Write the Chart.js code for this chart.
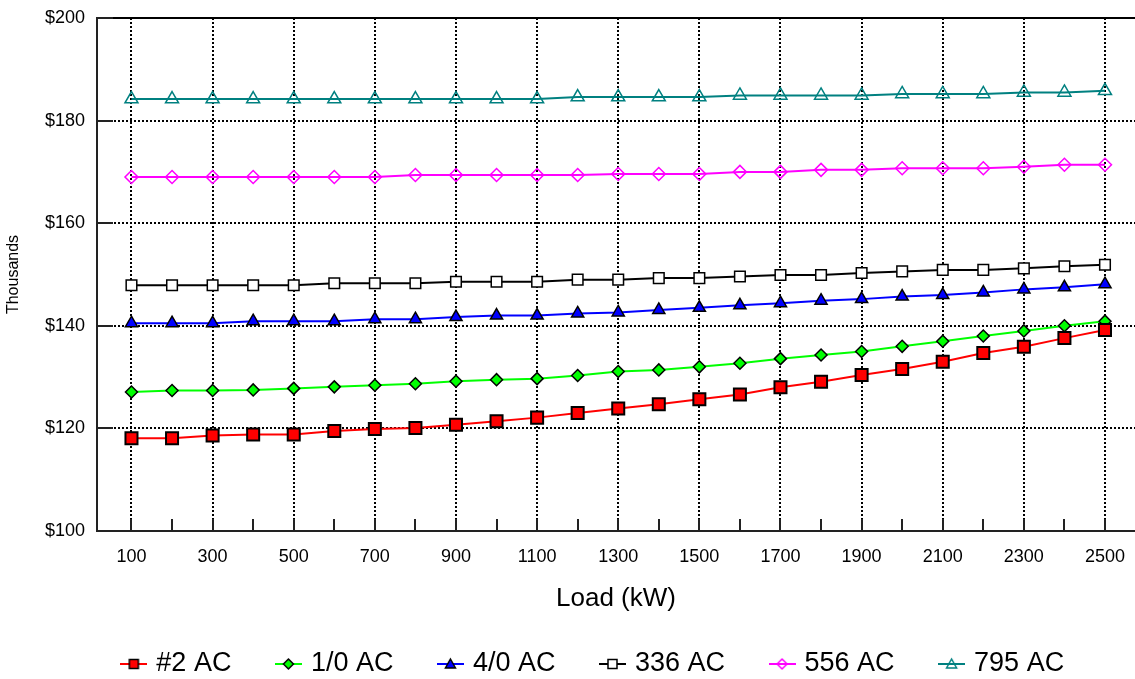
<!DOCTYPE html>
<html>
<head>
<meta charset="utf-8">
<script src="https://cdn.jsdelivr.net/npm/chart.js@4.4.0/dist/chart.umd.min.js"></script>
<style>
    html, body { margin: 0; padding: 0; background: #fff; }
</style>
</head>
<body>
<canvas id="costChart" width="1135" height="679"></canvas>
<script>
// Load (kW) categories
var loads = [100, 200, 300, 400, 500, 600, 700, 800, 900, 1000, 1100, 1200, 1300,
             1400, 1500, 1600, 1700, 1800, 1900, 2000, 2100, 2200, 2300, 2400, 2500];
var xTickLabels = [100, 300, 500, 700, 900, 1100, 1300, 1500, 1700, 1900, 2100, 2300, 2500];
var yTickValues = [100, 120, 140, 160, 180, 200];

// cost in thousands of $
var ac2 = [118.1, 118.1, 118.6, 118.8, 118.8, 119.5, 119.9, 120.1, 120.7, 121.4, 122.1, 123.0, 123.9,
           124.7, 125.7, 126.6, 128.0, 129.1, 130.4, 131.6, 133.0, 134.7, 135.9, 137.6, 139.2];
var ac10 = [127.1, 127.4, 127.4, 127.5, 127.8, 128.1, 128.4, 128.7, 129.2, 129.5, 129.7, 130.3, 131.1,
            131.4, 132.0, 132.7, 133.6, 134.3, 135.0, 136.0, 137.0, 138.0, 139.0, 140.0, 140.9];
var ac40 = [140.5, 140.5, 140.5, 140.9, 140.9, 140.9, 141.3, 141.3, 141.7, 142.0, 142.0, 142.4, 142.6,
            143.1, 143.5, 144.0, 144.4, 144.9, 145.2, 145.7, 146.0, 146.5, 147.1, 147.5, 148.1];
var ac336 = [147.9, 147.9, 147.9, 147.9, 147.9, 148.3, 148.3, 148.3, 148.6, 148.6, 148.6, 149.0, 149.0,
             149.3, 149.3, 149.6, 149.9, 149.9, 150.3, 150.6, 150.9, 150.9, 151.2, 151.6, 151.9];
var ac556 = [169.0, 169.0, 169.0, 169.0, 169.0, 169.0, 169.0, 169.4, 169.4, 169.4, 169.4, 169.4, 169.6,
             169.6, 169.6, 170.0, 170.0, 170.4, 170.4, 170.7, 170.7, 170.7, 171.0, 171.4, 171.4];
var ac795 = [184.2, 184.2, 184.2, 184.2, 184.2, 184.2, 184.2, 184.2, 184.2, 184.2, 184.2, 184.6, 184.6,
             184.6, 184.6, 184.9, 184.9, 184.9, 184.9, 185.2, 185.2, 185.2, 185.5, 185.5, 185.8];

var xMin = 15, xMax = 2574;

function toPoints(values) {
    return values.map(function (v, i) { return { x: loads[i], y: v }; });
}

// small legend icon: line with the marker on it
function makeIcon(lineColor, style, fill, stroke, r) {
    var c = document.createElement('canvas');
    c.width = 27; c.height = 20;
    var g = c.getContext('2d');
    var cx = 13.5, cy = 10;
    g.strokeStyle = lineColor;
    g.lineWidth = 2;
    g.beginPath(); g.moveTo(0, cy); g.lineTo(27, cy); g.stroke();
    g.beginPath();
    if (style === 'rect') {
        g.rect(cx - r, cy - r, 2 * r, 2 * r);
    } else if (style === 'rectRot') {
        g.moveTo(cx, cy - r); g.lineTo(cx + r, cy); g.lineTo(cx, cy + r); g.lineTo(cx - r, cy); g.closePath();
    } else {
        g.moveTo(cx, cy - r); g.lineTo(cx + r, cy + r * 0.8); g.lineTo(cx - r, cy + r * 0.8); g.closePath();
    }
    if (fill) { g.fillStyle = fill; g.fill(); }
    g.strokeStyle = stroke;
    g.lineWidth = 1.5;
    g.stroke();
    return c;
}

var legendIcons = [
    makeIcon('#ff0000', 'rect', '#ff0000', '#000', 4.5),
    makeIcon('#00ff00', 'rectRot', '#00ff00', '#000', 5),
    makeIcon('#0000ff', 'triangle', '#0000ff', '#000', 5),
    makeIcon('#000000', 'rect', '#ffffff', '#000', 4.5),
    makeIcon('#ff00ff', 'rectRot', null, '#ff00ff', 5),
    makeIcon('#008080', 'triangle', null, '#008080', 5)
];

// inward tick marks on both axes, legend nudged a bit right like the original
var inwardTicks = {
    id: 'inwardTicks',
    afterLayout: function (chart) {
        chart.legend.left += 7;
        chart.legend.right += 7;
    },
    beforeDatasetsDraw: function (chart) {
        var ctx = chart.ctx, area = chart.chartArea;
        var xs = chart.scales.x, ys = chart.scales.y;
        ctx.save();
        ctx.strokeStyle = '#222';
        ctx.lineWidth = 2;
        ctx.beginPath();
        loads.forEach(function (v) {
            var px = Math.round(xs.getPixelForValue(v));
            ctx.moveTo(px, area.bottom);
            ctx.lineTo(px, area.bottom - 12);
        });
        yTickValues.forEach(function (v) {
            var py = Math.round(ys.getPixelForValue(v));
            ctx.moveTo(area.left, py);
            ctx.lineTo(area.left + 16, py);
        });
        ctx.stroke();
        ctx.restore();
    }
};

Chart.defaults.font.family = '"Liberation Sans", Arial, sans-serif';
Chart.defaults.color = '#000';

var ctx = document.getElementById('costChart').getContext('2d');
var costChart = new Chart(ctx, {
    type: 'line',
    data: {
        datasets: [{
            label: '#2 AC', data: toPoints(ac2),
            borderColor: '#ff0000', borderWidth: 2,
            pointStyle: 'rect', pointRadius: 8.5, pointBackgroundColor: '#ff0000',
            pointBorderColor: '#000', pointBorderWidth: 2
        }, {
            label: '1/0 AC', data: toPoints(ac10),
            borderColor: '#00ff00', borderWidth: 2,
            pointStyle: 'rectRot', pointRadius: 6, pointBackgroundColor: '#00ff00',
            pointBorderColor: '#000', pointBorderWidth: 1.5
        }, {
            label: '4/0 AC', data: toPoints(ac40),
            borderColor: '#0000ff', borderWidth: 2,
            pointStyle: 'triangle', pointRadius: 7, pointBackgroundColor: '#0000ff',
            pointBorderColor: '#000', pointBorderWidth: 1.5
        }, {
            label: '336 AC', data: toPoints(ac336),
            borderColor: '#000000', borderWidth: 2,
            pointStyle: 'rect', pointRadius: 7.5, pointBackgroundColor: '#ffffff',
            pointBorderColor: '#000', pointBorderWidth: 1.5
        }, {
            label: '556 AC', data: toPoints(ac556),
            borderColor: '#ff00ff', borderWidth: 2,
            pointStyle: 'rectRot', pointRadius: 6.5, pointBackgroundColor: 'rgba(0,0,0,0)',
            pointBorderColor: '#ff00ff', pointBorderWidth: 1.5
        }, {
            label: '795 AC', data: toPoints(ac795),
            borderColor: '#008080', borderWidth: 2,
            pointStyle: 'triangle', pointRadius: 7.5, pointBackgroundColor: 'rgba(0,0,0,0)',
            pointBorderColor: '#008080', pointBorderWidth: 1.5
        }]
    },
    options: {
        responsive: false,
        animation: false,
        layout: { autoPadding: false, padding: { top: 18, left: 40, right: 0, bottom: 0 } },
        plugins: {
            tooltip: { enabled: false },
            legend: {
                position: 'bottom',
                maxHeight: 76.5,
                labels: {
                    usePointStyle: true,
                    pointStyleWidth: 18,
                    padding: 48,
                    color: '#000',
                    font: { size: 27 },
                    generateLabels: function (chart) {
                        return chart.data.datasets.map(function (ds, i) {
                            return {
                                text: ds.label, datasetIndex: i, pointStyle: legendIcons[i],
                                fillStyle: ds.borderColor, strokeStyle: ds.borderColor,
                                lineWidth: 0, hidden: false, fontColor: '#000'
                            };
                        });
                    }
                }
            }
        },
        scales: {
            x: {
                type: 'linear',
                min: xMin,
                max: xMax,
                afterBuildTicks: function (s) {
                    s.ticks = xTickLabels.map(function (v) { return { value: v }; });
                },
                afterFit: function (s) {
                    s.height = 71.5;
                    s.paddingLeft = 0;
                    s.paddingRight = 0;
                },
                grid: { color: '#000', lineWidth: 2, drawTicks: false },
                border: { color: '#222', width: 2, dash: [2, 2] },
                ticks: {
                    padding: 15, autoSkip: false, maxRotation: 0, color: '#000',
                    font: { size: 18 },
                    callback: function (v) { return String(v); }
                },
                title: {
                    display: true, text: 'Load (kW)', color: '#000',
                    font: { size: 26 }, padding: { top: 0, bottom: -12 }
                }
            },
            y: {
                min: 100,
                max: 200,
                afterBuildTicks: function (s) {
                    s.ticks = yTickValues.map(function (v) { return { value: v }; });
                },
                afterFit: function (s) {
                    s.width = 57;
                    s.paddingTop = 0;
                    s.paddingBottom = 0;
                },
                grid: {
                    drawTicks: false, lineWidth: 2,
                    color: function (c) {
                        return (c.tick && c.tick.value === 100) ? 'rgba(0,0,0,0)' : '#000';
                    }
                },
                border: {
                    color: '#222', width: 2,
                    dash: function (c) {
                        return (c.tick && c.tick.value === 200) ? [] : [2, 2];
                    }
                },
                ticks: {
                    padding: 12, color: '#000', font: { size: 18 },
                    callback: function (v) { return '$' + v; }
                },
                title: {
                    display: true, text: 'Thousands', color: '#000',
                    font: { size: 16 }, padding: { top: -36, bottom: 0 }
                }
            }
        }
    },
    plugins: [inwardTicks]
});
</script>
</body>
</html>
